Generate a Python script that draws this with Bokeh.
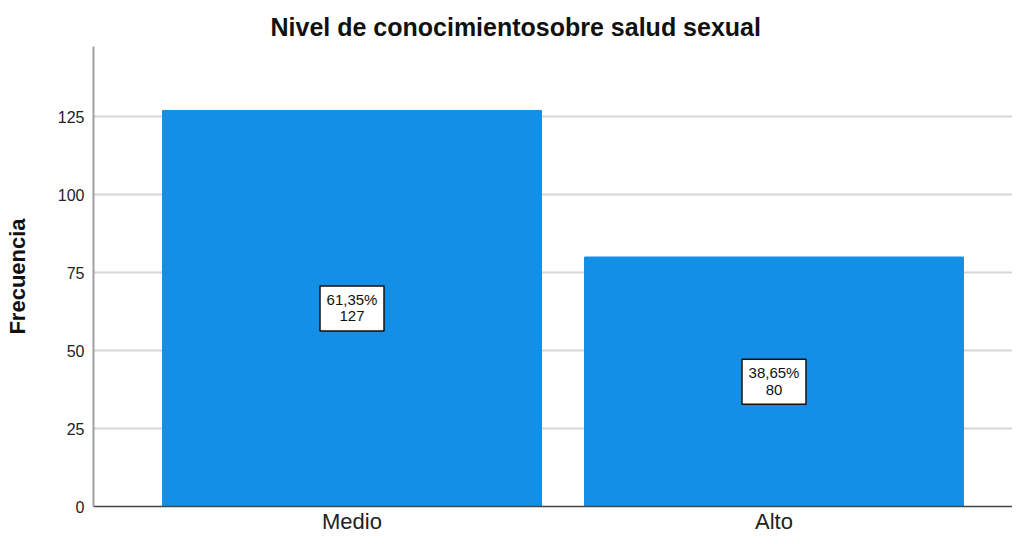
from bokeh.plotting import figure
from bokeh.models import Range1d, FixedTicker, ColumnDataSource, Title
from bokeh.core.properties import value
from bokeh.embed import file_html
from bokeh.resources import INLINE

# ---- data ----
categories = ["Medio", "Alto"]
counts = [127, 80]
percent_labels = ["61,35%", "38,65%"]
y_ticks = [0, 25, 50, 75, 100, 125]

FONT = "Liberation Sans"
BAR = "#1390e5"

xs = list(range(len(categories)))
src = ColumnDataSource(dict(
    x=xs,
    top=counts,
    mid=[c / 2 for c in counts],
    pct=percent_labels,
    cnt=[str(c) for c in counts],
))

p = figure(
    width=1012, height=536,
    x_range=Range1d(-0.6126, 1.5652),
    y_range=Range1d(0, 147.5),
    output_backend="svg", toolbar_location=None,
    min_border_left=93, min_border_right=0,
    min_border_top=46, min_border_bottom=28,
)
p.outline_line_color = None
p.background_fill_color = "white"
p.border_fill_color = "white"

p.add_layout(Title(text="Nivel de conocimientosobre salud sexual",
                   text_font=FONT, text_font_size="25px", text_font_style="bold",
                   text_color="#111111", align="left", offset=177, standoff=12), "above")

# bars
p.vbar(x="x", top="top", width=0.898, bottom=0, source=src,
       fill_color=BAR, line_color=BAR, line_width=1)

# label boxes
p.rect(x="x", y="mid", width=64, height=45, width_units="screen", height_units="screen",
       source=src, fill_color="white", line_color="#111111", line_width=1.5)
p.text(x="x", y="mid", text="pct", source=src, y_offset=-9,
       text_align="center", text_baseline="middle",
       text_font=value(FONT), text_font_size="15px", text_color="#111111")
p.text(x="x", y="mid", text="cnt", source=src, y_offset=8,
       text_align="center", text_baseline="middle",
       text_font=value(FONT), text_font_size="15px", text_color="#111111")

# grid
p.xgrid.grid_line_color = None
p.ygrid.ticker = FixedTicker(ticks=y_ticks)
p.ygrid.grid_line_color = "#d6d6d6"
p.ygrid.grid_line_width = 2
p.ygrid.level = "underlay"

# y axis
p.yaxis.ticker = FixedTicker(ticks=y_ticks)
p.yaxis.axis_line_color = "#a0a0a0"
p.yaxis.axis_line_width = 2
p.yaxis.major_tick_out = 0
p.yaxis.major_tick_in = 0
p.yaxis.minor_tick_out = 0
p.yaxis.minor_tick_in = 0
p.yaxis.major_label_standoff = 9
p.yaxis.major_label_text_font = FONT
p.yaxis.major_label_text_font_size = "16px"
p.yaxis.major_label_text_color = "#222222"
p.yaxis.axis_label = "Frecuencia"
p.yaxis.axis_label_text_font = FONT
p.yaxis.axis_label_text_font_size = "22px"
p.yaxis.axis_label_text_font_style = "bold"
p.yaxis.axis_label_text_color = "#111111"
p.yaxis.axis_label_standoff = 25

# x axis
p.xaxis.ticker = FixedTicker(ticks=xs)
p.xaxis.major_label_overrides = {i: c for i, c in zip(xs, categories)}
p.xaxis.axis_line_color = "#444444"
p.xaxis.axis_line_width = 1.5
p.xaxis.major_tick_out = 0
p.xaxis.major_tick_in = 0
p.xaxis.minor_tick_out = 0
p.xaxis.minor_tick_in = 0
p.xaxis.major_label_standoff = 2
p.xaxis.major_label_text_font = FONT
p.xaxis.major_label_text_font_size = "22px"
p.xaxis.major_label_text_color = "#222222"

open("out.html", "w").write(file_html(p, INLINE))
